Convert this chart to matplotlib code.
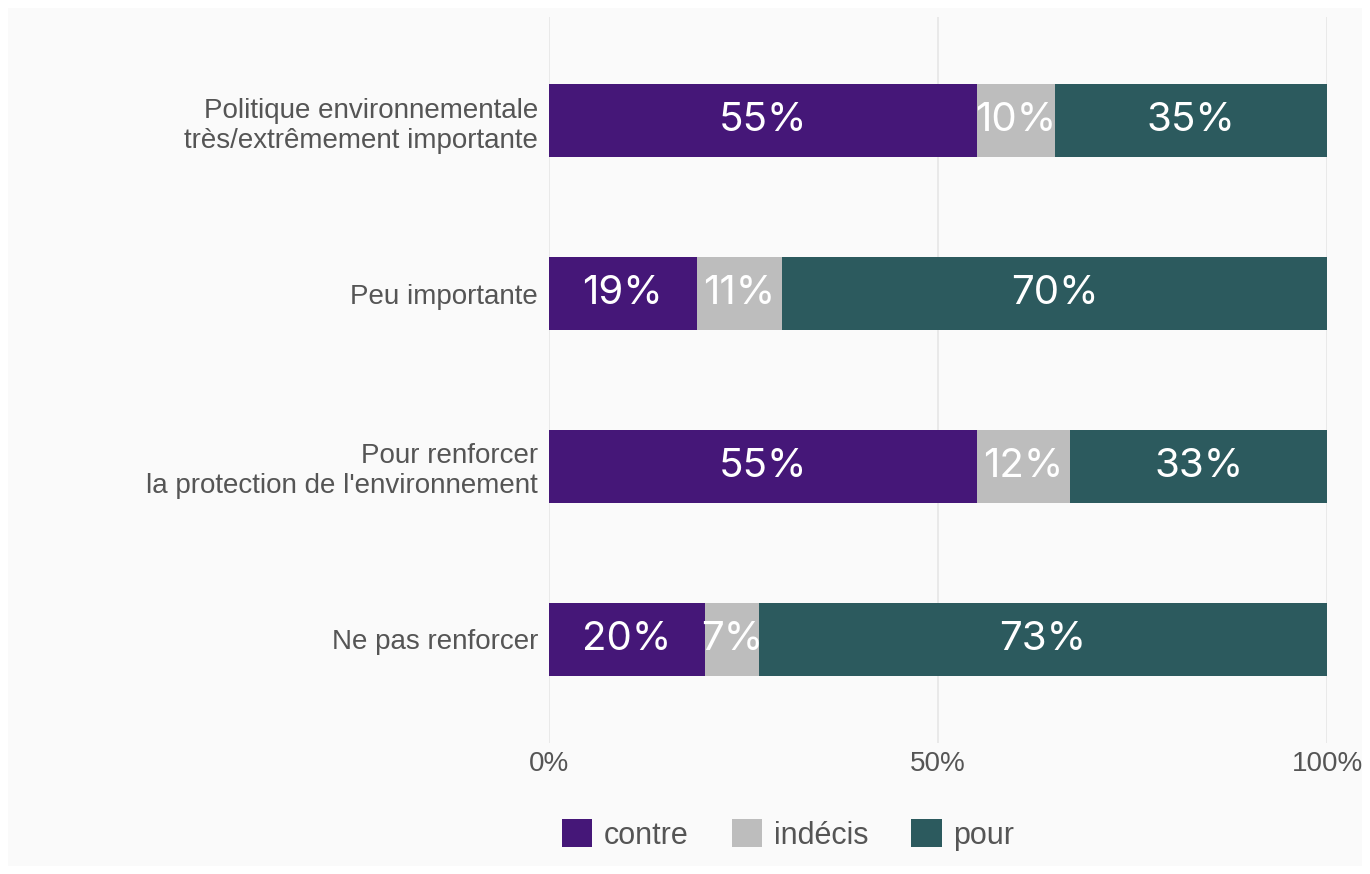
import matplotlib
matplotlib.use("Agg")
import matplotlib.pyplot as plt
from matplotlib.patches import Rectangle, Patch

categories = ["Politique environnementale\ntrès/extrêmement importante",
              "Peu importante",
              "Pour renforcer\nla protection de l'environnement",
              "Ne pas renforcer"]
contre = [55, 19, 55, 20]
indecis = [10, 11, 12, 7]
pour = [35, 70, 33, 73]
series_names = ["contre", "indécis", "pour"]
colors = ["#451778", "#bdbdbd", "#2c5a5e"]
xticks = [0, 50, 100]
xticklabels = ["0%", "50%", "100%"]

plt.rcParams['font.family'] = ['Liberation Sans', 'DejaVu Sans']

fig = plt.figure(figsize=(13.7, 8.74), dpi=100, facecolor="white")
bg = Rectangle((8/1370, 8/874), 1354/1370, 858/874, transform=fig.transFigure,
               facecolor="#fafafa", edgecolor="none", zorder=-10)
fig.add_artist(bg)
ax = fig.add_axes([549/1370, 1-743/874, (1327-549)/1370, (743-17)/874])
ax.patch.set_alpha(0)

n = len(categories)
ypos = [n - i for i in range(n)]
h = 0.42
left = [0]*n
for vals, col in zip([contre, indecis, pour], colors):
    ax.barh(ypos, vals, left=left, height=h, color=col, edgecolor="none", zorder=2)
    for y, l, v in zip(ypos, left, vals):
        ax.text(l + v/2, y, f"{v}%", ha="center", va="center", color="white",
                fontsize=29, family=['Inter', 'DejaVu Sans'], fontweight="normal", zorder=3)
    left = [a + b for a, b in zip(left, vals)]

ax.set_xlim(0, 100)
ax.set_ylim(0.4, n + 0.6)
ax.set_yticks(ypos)
ax.set_yticklabels(categories, fontsize=20, color="#555555", ha="right", linespacing=1.2)
ax.set_xticks(xticks)
ax.set_xticklabels(xticklabels, fontsize=20, color="#555555")
ax.tick_params(axis="y", length=0, pad=8)
ax.tick_params(axis="x", length=0, pad=6)
for s in ax.spines.values():
    s.set_visible(False)
ax.grid(axis="x", color="#e6e6e6", linewidth=1.2, zorder=1)
ax.set_axisbelow(True)

handles = [Patch(facecolor=c, edgecolor="none", label=nm) for c, nm in zip(colors, series_names)]
fig.legend(handles=handles, loc="center", bbox_to_anchor=(788/1370, 1-835/874), ncol=3,
           frameon=False, fontsize=22, labelcolor="#555555", handlelength=1.0, handleheight=1.0,
           handletextpad=0.38, columnspacing=1.4)

fig.savefig("out.png", dpi=100, facecolor="white")
